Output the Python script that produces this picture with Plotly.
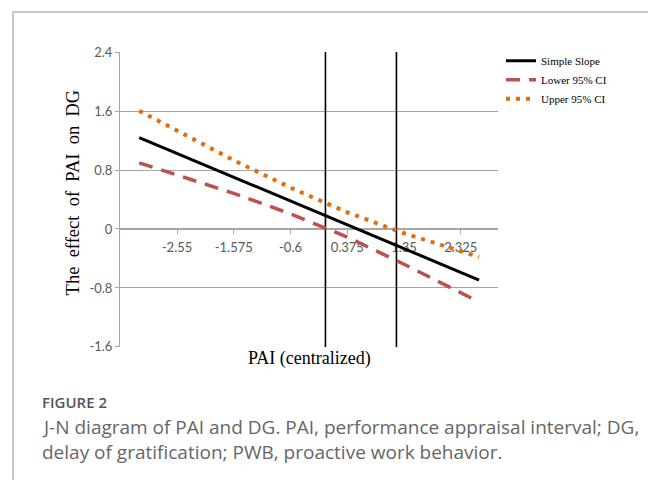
import plotly.graph_objects as go

# ---- data ----
pai_x = [-3.2, -2.55, -1.575, -0.6, 0.375, 1.35, 2.325, 2.64]
simple_slope = [1.24, 1.024, 0.70, 0.376, 0.052, -0.273, -0.598, -0.693]
lower_ci = [0.897, 0.731, 0.484, 0.205, -0.109, -0.478, -0.874, -0.99]
upper_ci = [1.603, 1.334, 0.932, 0.561, 0.226, -0.058, -0.306, -0.38]
jn_bounds = [0.0, 1.22]

x_tick_vals = [-2.55, -1.575, -0.6, 0.375, 1.35, 2.325]
x_tick_text = ["-2.55", "-1.575", "-0.6", "0.375", "1.35", "2.325"]
y_tick_vals = [-1.6, -0.8, 0, 0.8, 1.6, 2.4]
y_tick_text = ["-1.6", "-0.8", "0", "0.8", "1.6", "2.4"]
y_min, y_max = -1.6, 2.4

GRID = "#a6a6a6"
TICKFONT = dict(family="Lato, Carlito, Arial", size=13, color="#595959")
SERIF = "Liberation Serif, Times New Roman, serif"

# plot area in screen pixels (page has an 8px body margin)
PL, PR, PT, PB = 120, 498, 52.4, 346.8


def px(xs):
    return (xs - PL) / (PR - PL)


def py(ys):
    return (PB - ys) / (PB - PT)


fig = go.Figure()

# J-N boundary lines
for xb in jn_bounds:
    fig.add_trace(go.Scatter(x=[xb, xb], y=[y_min, y_max], mode="lines",
                             line=dict(color="black", width=1.6),
                             showlegend=False, hoverinfo="skip"))

fig.add_trace(go.Scatter(x=pai_x, y=simple_slope, mode="lines", name="Simple Slope",
                         line=dict(color="black", width=3)))
fig.add_trace(go.Scatter(x=pai_x, y=lower_ci, mode="lines", name="Lower 95% CI",
                         line=dict(color="#c0504d", width=3.5, dash="14px,9px")))
fig.add_trace(go.Scatter(x=pai_x, y=upper_ci, mode="lines", name="Upper 95% CI",
                         line=dict(color="#e46c0a", width=4, dash="4px,6px")))

fig.update_layout(
    width=648, height=472,
    margin=dict(l=112, r=158, t=44.4, b=133.2),
    paper_bgcolor="white", plot_bgcolor="white",
    showlegend=True,
    legend=dict(x=px(501), y=py(46.6), xanchor="left", yanchor="top",
                font=dict(family=SERIF, size=11, color="black"),
                bgcolor="rgba(0,0,0,0)", tracegroupgap=0),
    xaxis=dict(range=[-3.53, 2.965], tickvals=x_tick_vals, ticktext=x_tick_text,
               showgrid=False, zeroline=False, showline=True, linecolor=GRID, linewidth=1,
               anchor="free", position=0.4, ticks="outside", ticklen=4, tickcolor=GRID,
               tickfont=TICKFONT, layer="below traces", ticklabelstandoff=2),
    yaxis=dict(range=[y_min - 0.001, y_max + 0.001], tickvals=y_tick_vals, ticktext=y_tick_text,
               showgrid=True, gridcolor=GRID, gridwidth=1, zeroline=False,
               showline=True, linecolor=GRID, linewidth=1,
               ticks="outside", ticklen=4, tickcolor=GRID, tickfont=TICKFONT,
               ticklabelstandoff=0),
)

# axis titles
fig.add_annotation(text="PAI (centralized)", xref="paper", yref="paper",
                   x=0.5, y=py(358), xanchor="center", yanchor="middle", showarrow=False,
                   font=dict(family=SERIF, size=18, color="black"))
fig.add_annotation(text="The\u00a0\u00a0effect\u00a0\u00a0of\u00a0\u00a0PAI\u00a0\u00a0on\u00a0\u00a0DG",
                   xref="paper", yref="paper", textangle=-90,
                   x=px(73), y=py(192.5), xanchor="center", yanchor="middle", showarrow=False,
                   font=dict(family=SERIF, size=18.5, color="black"))

# caption
fig.add_annotation(text="FIGURE 2", xref="paper", yref="paper",
                   x=px(40), y=py(402), xanchor="left", yanchor="middle", showarrow=False,
                   font=dict(family="Open Sans", size=15, color="#555555", weight=600))
fig.add_annotation(text="J-N diagram of PAI and DG. PAI, performance appraisal interval; DG,",
                   xref="paper", yref="paper",
                   x=px(40), y=py(427), xanchor="left", yanchor="middle", showarrow=False,
                   font=dict(family="Open Sans", size=19, color="#666666"))
fig.add_annotation(text="delay of gratification; PWB, proactive work behavior.",
                   xref="paper", yref="paper",
                   x=px(40), y=py(452), xanchor="left", yanchor="middle", showarrow=False,
                   font=dict(family="Open Sans", size=19, color="#666666"))

# figure frame
fig.add_shape(type="rect", xref="paper", yref="paper",
              x0=px(13), x1=px(653), y0=py(500), y1=py(12.5),
              line=dict(color="#c8c8c8", width=2), fillcolor="rgba(0,0,0,0)", layer="below")

fig.write_html("out.html")
